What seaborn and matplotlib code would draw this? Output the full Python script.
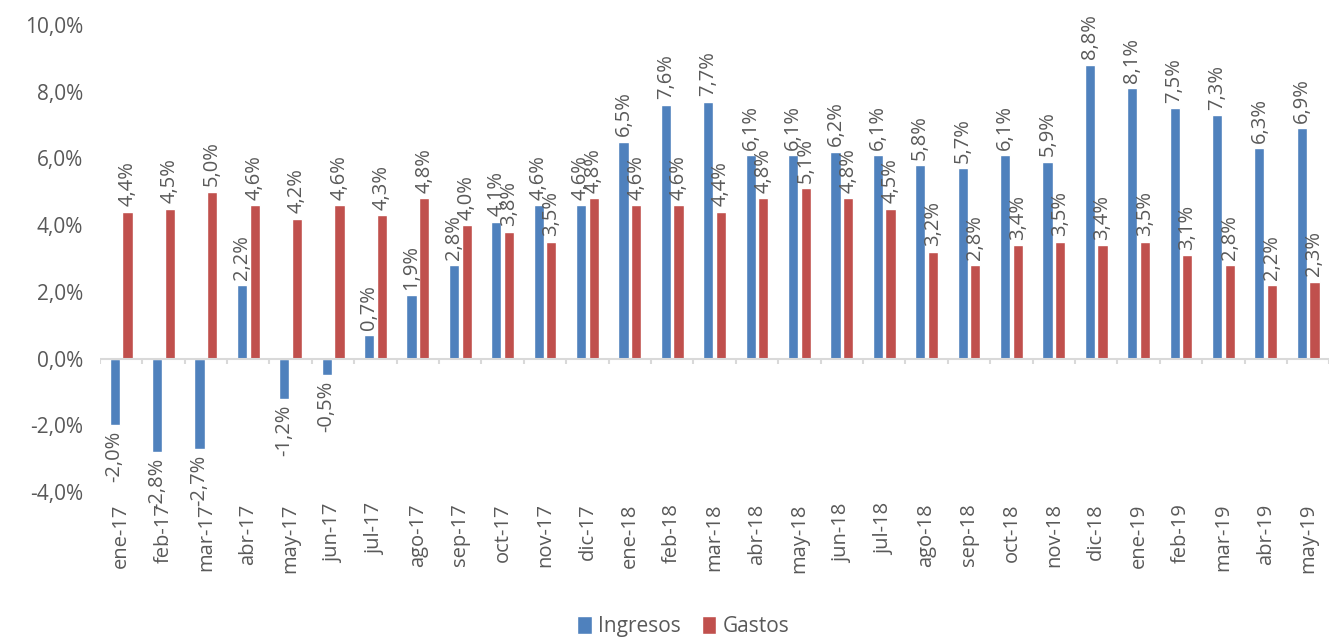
import matplotlib
matplotlib.use("Agg")
import matplotlib.pyplot as plt
import numpy as np
import pandas as pd
import seaborn as sns

meses = ["ene-17", "feb-17", "mar-17", "abr-17", "may-17", "jun-17", "jul-17",
         "ago-17", "sep-17", "oct-17", "nov-17", "dic-17", "ene-18", "feb-18",
         "mar-18", "abr-18", "may-18", "jun-18", "jul-18", "ago-18", "sep-18",
         "oct-18", "nov-18", "dic-18", "ene-19", "feb-19", "mar-19", "abr-19",
         "may-19"]
ingresos = [-2.0, -2.8, -2.7, 2.2, -1.2, -0.5, 0.7, 1.9, 2.8, 4.1, 4.6, 4.6,
            6.5, 7.6, 7.7, 6.1, 6.1, 6.2, 6.1, 5.8, 5.7, 6.1, 5.9, 8.8, 8.1,
            7.5, 7.3, 6.3, 6.9]
gastos = [4.4, 4.5, 5.0, 4.6, 4.2, 4.6, 4.3, 4.8, 4.0, 3.8, 3.5, 4.8, 4.6,
          4.6, 4.4, 4.8, 5.1, 4.8, 4.5, 3.2, 2.8, 3.4, 3.5, 3.4, 3.5, 3.1,
          2.8, 2.2, 2.3]
series = ["Ingresos", "Gastos"]
colores = ["#4f81bd", "#c0504d"]
gris = "#595959"

df = pd.DataFrame({
    "mes": meses * 2,
    "valor": ingresos + gastos,
    "serie": [series[0]] * len(meses) + [series[1]] * len(meses),
})

sns.set_style("white")
plt.rcParams["font.family"] = ["Open Sans", "DejaVu Sans"]

fig = plt.figure(figsize=(13.32, 6.4), dpi=100)
ax = fig.add_axes([0.075, 0.231, 0.923, 0.730])

sns.barplot(data=df, x="mes", y="valor", hue="serie", order=meses,
            hue_order=series, palette=colores, width=0.6, gap=0.2,
            saturation=1, ax=ax, legend=True)

# etiquetas de datos
for cont in ax.containers:
    for bar in cont:
        v = bar.get_height()
        x = bar.get_x() + bar.get_width() / 2
        txt = f"{v:.1f}%".replace(".", ",")
        if v >= 0:
            ax.annotate(txt, (x, v), xytext=(0, 4), textcoords="offset points",
                        rotation=90, ha="center", va="bottom",
                        fontsize=14.5, color=gris)
        else:
            ax.annotate(txt, (x, v), xytext=(0, -4), textcoords="offset points",
                        rotation=90, ha="center", va="top",
                        fontsize=14.5, color=gris)

ax.set_ylim(-4, 10)
ax.set_xlim(-0.5, len(meses) - 0.5)
ax.set_yticks(np.arange(-4, 10.1, 2))
ax.set_yticklabels([f"{t:.1f}%".replace(".", ",") for t in np.arange(-4, 10.1, 2)])
ax.tick_params(axis="y", length=0, labelsize=15, labelcolor=gris, pad=12)
ax.tick_params(axis="x", length=0, labelsize=14.5, labelcolor=gris,
               labelrotation=90, pad=8)
ax.set_xlabel("")
ax.set_ylabel("")
for s in ax.spines.values():
    s.set_visible(False)

# eje de categorías en cero con marcas entre meses
ax.axhline(0, color="#d9d9d9", lw=1.5, zorder=1)
ax.vlines(np.arange(len(meses) + 1) - 0.5, -0.15, 0, color="#d9d9d9", lw=1.5)

handles, labels = ax.get_legend_handles_labels()
ax.get_legend().remove()
leg = fig.legend(handles, labels, loc="lower center", bbox_to_anchor=(0.513, -0.025),
                 ncol=2, frameon=False, fontsize=15, handlelength=0.7,
                 handleheight=0.9, handletextpad=0.3, columnspacing=1.0)
for t in leg.get_texts():
    t.set_color(gris)

fig.savefig("out.png", dpi=100)
